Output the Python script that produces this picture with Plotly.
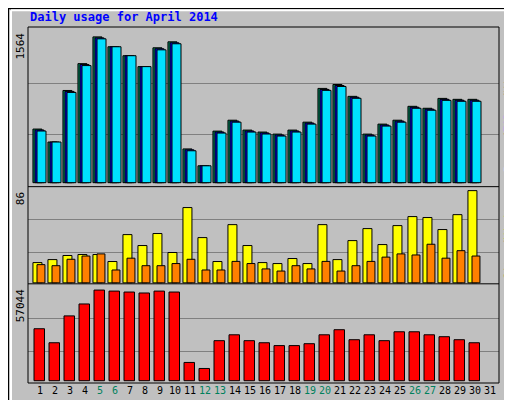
import plotly.graph_objects as go

days = list(range(1, 32))
weekend = [5, 6, 12, 13, 19, 20, 26, 27]

hits = [575, 436, 989, 1277, 1564, 1458, 1362, 1245, 1447, 1511, 362, 181, 553, 670, 564,
        543, 521, 564, 649, 1011, 1053, 926, 521, 628, 670, 819, 798, 904, 894, 894, None]
files = [565, 436, 979, 1267, 1553, 1458, 1362, 1245, 1436, 1500, 352, 181, 543, 660, 554,
         533, 511, 554, 639, 1000, 1042, 916, 511, 618, 660, 809, 788, 894, 884, 884, None]
pages = [554, 436, 968, 1256, 1543, 1458, 1362, 1245, 1425, 1490, 342, 181, 532, 649, 543,
         522, 500, 543, 628, 990, 1032, 905, 500, 607, 649, 798, 777, 883, 873, 873, None]
visits = [18.9, 21.7, 25.5, 26.4, 26.4, 19.9, 45, 34.8, 46, 28.3, 70.2, 42.2, 19.9, 54.3, 34.8,
          18.9, 18, 22.7, 18, 54.3, 21.7, 39.4, 50.6, 35.7, 53.4, 61.8, 60.9, 49.7, 63.6, 86, None]
sites = [17, 16, 22, 25, 27, 12, 23, 16, 16, 18, 22, 12, 12, 20, 18,
         13, 11, 16, 13, 20, 11, 16, 20, 24, 27, 26, 36, 23, 30, 25, None]
kbytes = [32700, 23900, 40800, 48300, 57044, 56400, 55800, 55200, 56400, 55800, 11500, 7700,
          25200, 28900, 25200, 23900, 22100, 22100, 23300, 28900, 32100, 25800, 28900, 25200,
          30800, 30800, 28900, 27700, 25800, 23900, None]

ln = dict(color="black", width=1)
fig = go.Figure()
fig.add_bar(x=days, y=hits, offset=-0.47, width=0.6, marker=dict(color="#00805c", line=ln), yaxis="y")
fig.add_bar(x=days, y=files, offset=-0.33, width=0.6, marker=dict(color="#0000ff", line=ln), yaxis="y")
fig.add_bar(x=days, y=pages, offset=-0.2, width=0.6, marker=dict(color="#00e0ff", line=ln), yaxis="y")
fig.add_bar(x=days, y=visits, offset=-0.47, width=0.6, marker=dict(color="#ffff00", line=ln), yaxis="y2")
fig.add_bar(x=days, y=sites, offset=-0.2, width=0.53, marker=dict(color="#ff8000", line=ln), yaxis="y2")
fig.add_bar(x=days, y=kbytes, offset=-0.4, width=0.7, marker=dict(color="#ff0000", line=ln), yaxis="y3")

ticktext = [f'<span style="color:#00805c">{d}</span>' if d in weekend else str(d) for d in days]
grid = dict(showgrid=True, gridcolor="#808080", gridwidth=1, showticklabels=False,
            zeroline=False, showline=False, fixedrange=True)
mono = "DejaVu Sans Mono"

fig.update_layout(
    width=512, height=400, showlegend=False, barmode="overlay",
    paper_bgcolor="#c0c0c0", plot_bgcolor="#c0c0c0",
    margin=dict(l=20, r=21, t=19, b=22),
    font=dict(family=mono, size=11, color="black"),
    xaxis=dict(range=[0.2, 31.6], tickvals=days, ticktext=ticktext, showgrid=False,
               zeroline=False, ticks="", anchor="y3", tickangle=0, tickfont=dict(size=10)),
    yaxis=dict(domain=[0.5515, 1], range=[-43, 1670], tickvals=[521, 1064], **grid),
    yaxis2=dict(domain=[0.2786, 0.5515], range=[-0.9, 89.7], tickvals=[28.5, 59], **grid),
    yaxis3=dict(domain=[0, 0.2786], range=[-1435, 60975], tickvals=[18529, 38931], **grid),
)

shapes = [
    dict(type="rect", xref="paper", yref="paper", x0=0, x1=1, y0=0, y1=1,
         line=dict(color="black", width=1)),
    dict(type="line", xref="paper", yref="paper", x0=0, x1=1, y0=0.5515, y1=0.5515,
         line=dict(color="black", width=1)),
    dict(type="line", xref="paper", yref="paper", x0=0, x1=1, y0=0.2786, y1=0.2786,
         line=dict(color="black", width=1)),
    # outer bevel
    dict(type="rect", xref="paper", yref="paper", x0=-20/471, x1=1+21/471, y0=-22/359, y1=1+19/359,
         line=dict(color="black", width=2)),
    dict(type="line", xref="paper", yref="paper", x0=-17/471, x1=-17/471, y0=-19/359, y1=1+17/359,
         line=dict(color="white", width=2)),
    dict(type="line", xref="paper", yref="paper", x0=-17/471, x1=1+18/471, y0=1+17/359, y1=1+17/359,
         line=dict(color="white", width=2)),
    dict(type="line", xref="paper", yref="paper", x0=-17/471, x1=1+18/471, y0=-19/359, y1=-19/359,
         line=dict(color="#808080", width=3)),
    dict(type="line", xref="paper", yref="paper", x0=1+18/471, x1=1+18/471, y0=-19/359, y1=1+17/359,
         line=dict(color="#808080", width=3)),
]
fig.update_layout(shapes=shapes)

ann = [
    dict(text="<b>Daily usage for April 2014</b>", x=0, y=1, yshift=1, xanchor="left", yanchor="bottom",
         font=dict(color="#0000ff", size=12)),
    dict(text="1564", x=0, xshift=-8, y=1, textangle=-90, xanchor="center", yanchor="top", yshift=-4),
    dict(text="86", x=0, xshift=-8, y=0.5515, textangle=-90, xanchor="center", yanchor="top", yshift=-4),
    dict(text="57044", x=0, xshift=-8, y=0.2786, textangle=-90, xanchor="center", yanchor="top", yshift=-4),
    dict(text='<span style="color:#00e0ff">Pages</span>/<span style="color:#0000ff">Files</span>/'
              '<span style="color:#00805c">Hits</span>',
         y=0.5515, yshift=12, yanchor="bottom"),
    dict(text='<span style="color:#ff8000">Sites</span>/<span style="color:#ffff00">Visits</span>',
         y=0.2786, yshift=2, yanchor="bottom"),
    dict(text='<span style="color:#ff0000">KBytes</span>',
         y=0, yshift=2, yanchor="bottom"),
]
for a in ann[4:]:
    a.update(x=1, xanchor="left", xshift=1, textangle=-90)
for a in ann:
    a.update(xref="paper", yref="paper", showarrow=False)
fig.update_layout(annotations=ann)

fig.write_html("out.html")
